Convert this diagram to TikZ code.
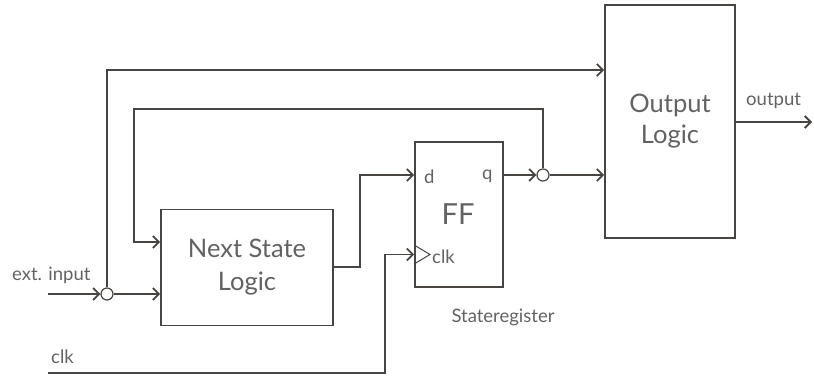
\documentclass[tikz,border=0pt]{standalone}
\usepackage{fontspec}
\setmainfont{Lato}
\usetikzlibrary{arrows.meta}
\definecolor{linec}{RGB}{72,68,66}
\definecolor{textc}{RGB}{100,98,96}
\begin{document}
\begin{tikzpicture}[x=1pt,y=-1pt,
  wire/.style={draw=linec,line width=1.8pt},
  arr/.style={wire,-{Straight Barb[length=6pt,width=12pt]}},
  blk/.style={draw=linec,line width=1.8pt,rectangle,inner sep=0pt,align=center,text=textc},
  junc/.style={draw=linec,line width=1.2pt,circle,fill=white,inner sep=0pt,minimum size=12pt},
  lbl/.style={text=textc,inner sep=0pt,font=\fontsize{18.5}{21}\selectfont}]
\useasboundingbox (0,0) rectangle (814,377);
% blocks
\node[blk,minimum width=172pt,minimum height=116pt,font=\fontsize{25.5}{33}\selectfont] (NSL) at (247,267.5) {Next State\\Logic};
\node[blk,minimum width=88pt,minimum height=145pt] (FF) at (459,214.5) {};
\node[text=textc,font=\fontsize{29}{30}\selectfont,inner sep=0pt] (FFt) at (458,214) {FF};
\node[blk,minimum width=130pt,minimum height=233pt,font=\fontsize{25.5}{31}\selectfont] (OL) at (670,121.5) {Output\\Logic};
% junctions
\node[junc] (j1) at (107,294) {};
\node[junc] (j2) at (543,175) {};
% coordinates
\coordinate (ein) at (48,294);
\coordinate (clkin) at (48,373);
\coordinate (outend) at (812,122);
\coordinate (top1) at (107,70);
\coordinate (loopL) at (134,109);
% labels
\node[lbl,anchor=base west] (extl) at (12,280) {ext. input};
\node[lbl,anchor=base west] (clkl) at (51,363) {clk};
\node[lbl,anchor=base west] (outl) at (746,106) {output};
\node[lbl,anchor=base west] (dl) at (424,183) {d};
\node[lbl,anchor=base west] (ql) at (482,179) {q};
\node[lbl,anchor=base west] (ckl) at (432,263) {clk};
\node[lbl,anchor=base,font=\fontsize{18.5}{21}\selectfont] (srl) at (503,322) {Stateregister};
% clock triangle
\draw[draw=linec,line width=1pt] (FF.west |- 0,245) -- (430,254.5) -- (FF.west |- 0,264);
% connectors
\draw[arr] (ein) -- (j1.west);
\draw[arr] (j1.east) -- (NSL.west |- j1);
\draw[arr] (j1.north) -- (top1) -- (OL.west |- top1);
\draw[arr] (j2.north) |- (loopL) |- (NSL.west |- 0,242);
\draw[arr] (NSL.east |- 0,267) -| (360,175) -- (FF.west |- 0,175);
\draw[arr] (FF.east |- j2) -- (j2.west);
\draw[arr] (j2.east) -- (OL.west |- j2);
\draw[arr] (clkin) -| (385,254.5) -- (FF.west |- 0,254.5);
\draw[arr] (OL.east |- outend) -- (outend);
\end{tikzpicture}
\end{document}
